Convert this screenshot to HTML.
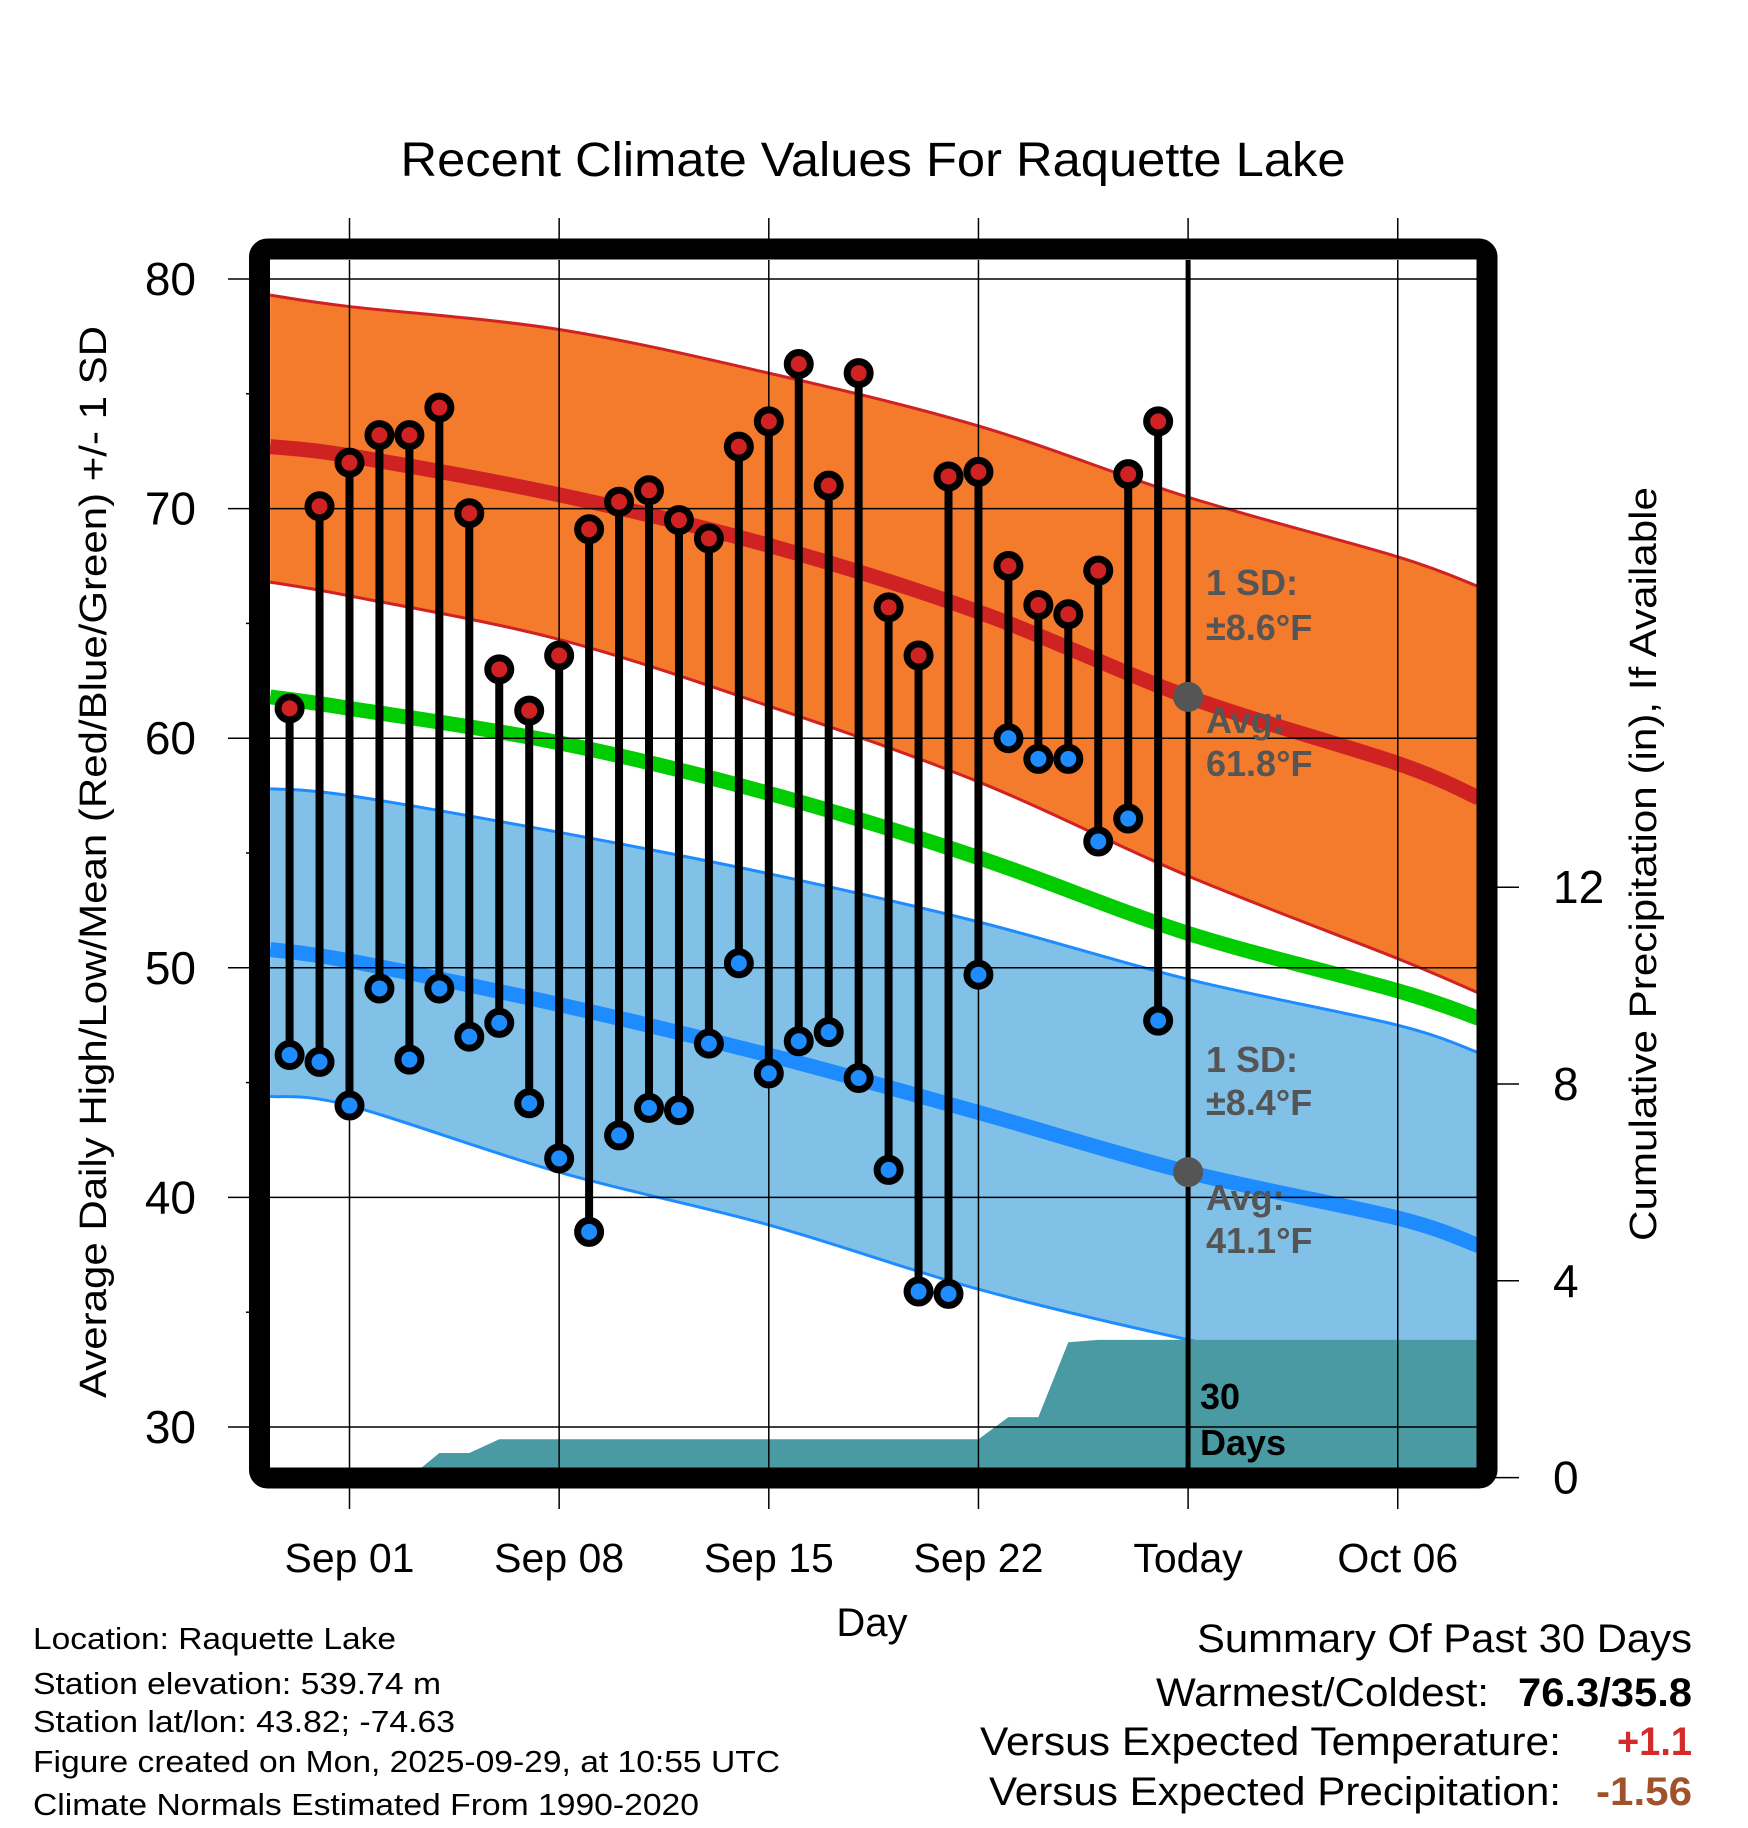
<!DOCTYPE html>
<html><head><meta charset="utf-8"><style>
html,body{margin:0;padding:0;background:#fff}
svg{display:block;font-family:"Liberation Sans",sans-serif}
</style></head><body>
<svg id="chart" width="1748" height="1828" viewBox="0 0 1748 1828" xmlns="http://www.w3.org/2000/svg">
<defs><clipPath id="plotclip"><rect x="270" y="260" width="1208" height="1208"/></clipPath></defs>
<rect width="1748" height="1828" fill="#fff"/>
<text x="873" y="176" font-size="48" text-anchor="middle" textLength="945" lengthAdjust="spacingAndGlyphs">Recent Climate Values For Raquette Lake</text>
<g id="plot" clip-path="url(#plotclip)"></g>
<g id="overlay"></g>
<rect x="259.5" y="249" width="1227.5" height="1229" rx="8" fill="none" stroke="#000" stroke-width="21"/>
<g id="axes"></g>
<text x="872" y="1636" font-size="40" text-anchor="middle">Day</text>
<text transform="translate(106,862) rotate(-90)" font-size="38" text-anchor="middle" textLength="1072" lengthAdjust="spacingAndGlyphs">Average Daily High/Low/Mean (Red/Blue/Green) +/- 1 SD</text>
<text transform="translate(1656,864) rotate(-90)" font-size="38" text-anchor="middle" textLength="754" lengthAdjust="spacingAndGlyphs">Cumulative Precipitation (in), If Available</text>
<g font-size="31">
<text x="33" y="1649" textLength="363" lengthAdjust="spacingAndGlyphs">Location: Raquette Lake</text>
<text x="33" y="1694" textLength="408" lengthAdjust="spacingAndGlyphs">Station elevation: 539.74 m</text>
<text x="33" y="1732" textLength="422" lengthAdjust="spacingAndGlyphs">Station lat/lon: 43.82; -74.63</text>
<text x="33" y="1772" textLength="747" lengthAdjust="spacingAndGlyphs">Figure created on Mon, 2025-09-29, at 10:55 UTC</text>
<text x="33" y="1815" textLength="666" lengthAdjust="spacingAndGlyphs">Climate Normals Estimated From 1990-2020</text>
</g>
<g font-size="40">
<text x="1692" y="1652" text-anchor="end" textLength="495" lengthAdjust="spacingAndGlyphs">Summary Of Past 30 Days</text>
<text x="1489" y="1706" text-anchor="end" textLength="333" lengthAdjust="spacingAndGlyphs">Warmest/Coldest:</text>
<text x="1692" y="1706" text-anchor="end" font-weight="bold" textLength="174" lengthAdjust="spacingAndGlyphs">76.3/35.8</text>
<text x="1561" y="1755" text-anchor="end" textLength="581" lengthAdjust="spacingAndGlyphs">Versus Expected Temperature:</text>
<text x="1692" y="1755" text-anchor="end" font-weight="bold" fill="#d42a2a" textLength="75" lengthAdjust="spacingAndGlyphs">+1.1</text>
<text x="1561" y="1805" text-anchor="end" textLength="572" lengthAdjust="spacingAndGlyphs">Versus Expected Precipitation:</text>
<text x="1692" y="1805" text-anchor="end" font-weight="bold" fill="#a0522d" textLength="96" lengthAdjust="spacingAndGlyphs">-1.56</text>
</g>
</svg>
<script>
// ---- data ----
const normDays = [-2.65, 0, 7, 14, 21, 28, 35, 37.7];
const highAvg  = [72.7, 72.3, 70.6, 68.4, 65.5, 61.8, 58.9, 57.4];
const highUp   = [79.3, 78.8, 77.8, 75.9, 73.6, 70.5, 67.9, 66.6];
const highLo   = [66.8, 66.2, 64.3, 61.4, 58.1, 54.0, 50.4, 48.9];
const meanAvg  = [61.8, 61.3, 59.8, 57.6, 54.8, 51.5, 49.0, 47.8];
const lowAvg   = [50.8, 50.3, 48.4, 46.2, 43.7, 41.1, 39.1, 37.9];
const lowUp    = [57.8, 57.5, 55.9, 54.1, 52.0, 49.5, 47.5, 46.3];
const lowLo    = [44.4, 44.0, 41.1, 38.8, 36.0, 33.8, 32.0, 31.0];
const obsDays  = [-2,-1,0,1,2,3,4,5,6,7,8,9,10,11,12,13,14,15,16,17,18,19,20,21,22,23,24,25,26,27];
const obsHigh  = [61.3,70.1,72.0,73.2,73.2,74.4,69.8,63.0,61.2,63.6,69.1,70.3,70.8,69.5,68.7,72.7,73.8,76.3,71.0,75.9,65.7,63.6,71.4,71.6,67.5,65.8,65.4,67.3,71.5,73.8];
const obsLow   = [46.2,45.9,44.0,49.1,46.0,49.1,47.0,47.6,44.1,41.7,38.5,42.7,43.9,43.8,46.7,50.2,45.4,46.8,47.2,45.2,41.2,35.9,35.8,49.7,60.0,59.1,59.1,55.5,56.5,47.7];
const precipDays = [2,3,4,5,21,22,23,24,25,37.7];
const precipCum  = [0,0.5,0.5,0.78,0.78,1.23,1.23,2.75,2.8,2.8];
const xTickDays   = [0,7,14,21,28,35];
const xTickLabels = ["Sep 01","Sep 08","Sep 15","Sep 22","Today","Oct 06"];
const yTicks   = [30,40,50,60,70,80];
const yMinor   = [35,45,55,65,75];
const y2Ticks  = [0,4,8,12];
const todayDay = 28;
const todayHigh = 61.8, todayLow = 41.1;

// ---- axes ----
const NS="http://www.w3.org/2000/svg";
const X = d => 349.5 + d*29.95;
const Y = t => 279 + (80 - t)*22.96;
const Y2 = p => 1477.6 - p*49.2;
function mk(tag, attrs, parent){const e=document.createElementNS(NS,tag);for(const k in attrs)e.setAttribute(k,attrs[k]);parent.appendChild(e);return e;}
const plot=document.getElementById('plot'), axes=document.getElementById('axes'), ov=document.getElementById('overlay');

function pts(arr){return normDays.map((d,i)=>[X(d),Y(arr[i])]);}
function smooth(p, move){
  let s=(move?'M':'L')+p[0][0]+','+p[0][1];
  for(let i=0;i<p.length-1;i++){
    const p0=p[Math.max(0,i-1)],p1=p[i],p2=p[i+1],p3=p[Math.min(p.length-1,i+2)];
    const c1=[p1[0]+(p2[0]-p0[0])/6,p1[1]+(p2[1]-p0[1])/6];
    const c2=[p2[0]-(p3[0]-p1[0])/6,p2[1]-(p3[1]-p1[1])/6];
    s+=' C'+c1[0]+','+c1[1]+' '+c2[0]+','+c2[1]+' '+p2[0]+','+p2[1];
  }
  return s;
}
function bandPath(up, lo){return smooth(pts(up),true)+' '+smooth(pts(lo).reverse(),false)+' Z';}
function linePath(arr){return smooth(pts(arr),true);}

let e;
e=mk('path',{d:bandPath(highUp,highLo),fill:'#f47a2c'},plot);


e=mk('path',{d:bandPath(lowUp,lowLo),fill:'#82c1e7'},plot);


e=mk('path',{d:linePath(highUp),fill:'none',stroke:'#d02222','stroke-width':3},plot);


e=mk('path',{d:linePath(highLo),fill:'none',stroke:'#d02222','stroke-width':3},plot);


e=mk('path',{d:linePath(lowUp),fill:'none',stroke:'#1e8cff','stroke-width':3},plot);


e=mk('path',{d:linePath(lowLo),fill:'none',stroke:'#1e8cff','stroke-width':3},plot);


e=mk('path',{d:linePath(highAvg),fill:'none',stroke:'#cf2222','stroke-width':15},plot);


e=mk('path',{d:linePath(meanAvg),fill:'none',stroke:'#00cc00','stroke-width':15},plot);


e=mk('path',{d:linePath(lowAvg),fill:'none',stroke:'#1e8cff','stroke-width':15},plot);



// precipitation
let pd='M'+X(precipDays[0])+','+Y2(0);
precipDays.forEach((d,i)=>{pd+=' L'+X(d)+','+Y2(precipCum[i]);});
pd+=' L'+X(precipDays[precipDays.length-1])+','+Y2(0)+' Z';
e=mk('path',{d:pd,fill:'#4a9aa3'},plot);



// grid
yTicks.forEach(t=>{
  e=mk('line',{x1:270,x2:1478,y1:Y(t),y2:Y(t),stroke:'#000','stroke-width':1.5},plot);
  
  
});
xTickDays.forEach(d=>{
  e=mk('line',{x1:X(d),x2:X(d),y1:260,y2:1468,stroke:'#000','stroke-width':1.5},plot);
  
  
});

// stems
obsDays.forEach((d,i)=>{
  e=mk('line',{x1:X(d),x2:X(d),y1:Y(obsHigh[i]),y2:Y(obsLow[i]),stroke:'#000','stroke-width':8},plot);
  
  
});
obsDays.forEach((d,i)=>{
  e=mk('circle',{cx:X(d),cy:Y(obsHigh[i]),r:11.5,fill:'#d02222',stroke:'#000','stroke-width':7},plot);
  
  
  e=mk('circle',{cx:X(d),cy:Y(obsLow[i]),r:11.5,fill:'#1e8cff',stroke:'#000','stroke-width':7},plot);
  
  
});

// today line & markers
e=mk('line',{x1:X(todayDay),x2:X(todayDay),y1:260,y2:1468,stroke:'#000','stroke-width':5},plot);


e=mk('circle',{cx:X(todayDay),cy:Y(todayHigh),r:15,fill:'#555'},plot);


e=mk('circle',{cx:X(todayDay),cy:Y(todayLow),r:15,fill:'#555'},plot);



// annotations
const ann=[["1 SD:",595,'high-sd-label'],["±8.6°F",640,'high-sd-value'],["Avg:",733,'high-avg-label'],["61.8°F",776,'high-avg-value'],
           ["1 SD:",1072,'low-sd-label'],["±8.4°F",1115,'low-sd-value'],["Avg:",1210,'low-avg-label'],["41.1°F",1253,'low-avg-value']];
ann.forEach(a=>{
  e=mk('text',{x:1206,y:a[1],'font-size':36,'font-weight':'bold',fill:'#555'},ov);
  e.textContent=a[0];
  
  
});
e=mk('text',{x:1200,y:1409,'font-size':36,'font-weight':'bold',fill:'#000'},ov);
e.textContent='30';


e=mk('text',{x:1200,y:1455,'font-size':36,'font-weight':'bold',fill:'#000'},ov);
e.textContent='Days';



// axis ticks & labels
yTicks.forEach(t=>{
  e=mk('line',{x1:228,x2:260,y1:Y(t),y2:Y(t),stroke:'#000','stroke-width':1.5},axes);
  
  
  e=mk('text',{x:196,y:Y(t)+16,'font-size':46,'text-anchor':'end'},axes);
  e.textContent=String(t);
  
  
});
yMinor.forEach(t=>{
  e=mk('line',{x1:246,x2:260,y1:Y(t),y2:Y(t),stroke:'#000','stroke-width':1.5},axes);
  
  
});
xTickDays.forEach((d,i)=>{
  e=mk('line',{x1:X(d),x2:X(d),y1:218,y2:240,stroke:'#000','stroke-width':1.5},axes);
  
  
  e=mk('line',{x1:X(d),x2:X(d),y1:1486,y2:1509,stroke:'#000','stroke-width':1.5},axes);
  
  
  e=mk('text',{x:X(d),y:1572,'font-size':41,'text-anchor':'middle'},axes);
  e.textContent=xTickLabels[i];
  
  
});
y2Ticks.forEach(p=>{
  e=mk('line',{x1:1494,x2:1519,y1:Y2(p),y2:Y2(p),stroke:'#000','stroke-width':1.5},axes);
  
  
  e=mk('text',{x:1553,y:Y2(p)+16,'font-size':46},axes);
  e.textContent=String(p);
  
  
});
</script>
</body></html>
